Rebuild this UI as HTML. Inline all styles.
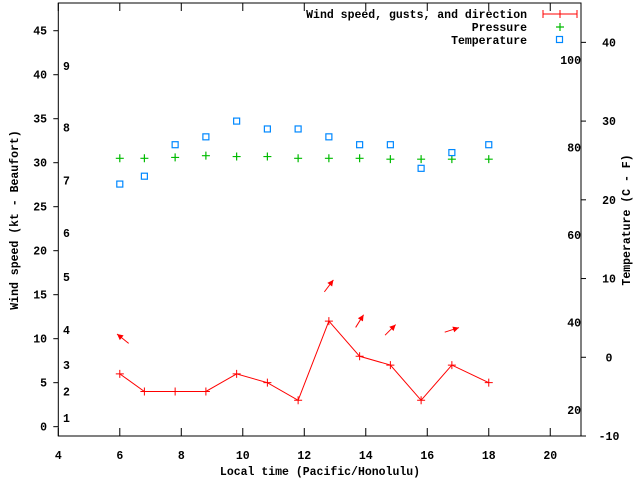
<!DOCTYPE html>
<html><head><meta charset="utf-8"><style>
html,body{margin:0;padding:0;background:#fff;}
svg{display:block;font-family:"Liberation Mono",monospace;font-weight:bold;font-size:11.5px;}
</style></head><body>
<svg id="chart" width="640" height="480" viewBox="0 0 640 480" xmlns="http://www.w3.org/2000/svg">
<g id="axes"></g>
<g id="marks"></g>
<g id="legend">
  <text x="527" y="18" text-anchor="end">Wind speed, gusts, and direction</text>
  <line x1="543" y1="14" x2="577" y2="14" stroke="#f00"/>
  <line x1="543" y1="10" x2="543" y2="18" stroke="#f00"/>
  <line x1="577" y1="10" x2="577" y2="18" stroke="#f00"/>
  <line x1="560" y1="10" x2="560" y2="18" stroke="#f00"/>
  <text x="527" y="31" text-anchor="end">Pressure</text>
  <path d="M556 27h8M560 23v8" stroke="#0b0" stroke-width="1.2" fill="none"/>
  <text x="527" y="44" text-anchor="end">Temperature</text>
  <rect x="556.5" y="36.5" width="6" height="6" stroke="#08f" stroke-width="1.2" fill="none"/>
</g>
</svg>
<script>
const times = [6.0, 6.8, 7.8, 8.8, 9.8, 10.8, 11.8, 12.8, 13.8, 14.8, 15.8, 16.8, 18.0];
const windSpeed = [6, 4, 4, 4, 6, 5, 3, 12, 8, 7, 3, 7, 5];
const pressure = [30.5, 30.5, 30.6, 30.8, 30.7, 30.7, 30.5, 30.5, 30.5, 30.4, 30.4, 30.4, 30.4];
const temperatureC = [22, 23, 27, 28, 30, 29, 29, 28, 27, 27, 24, 26, 27];
const arrowTimes = [6.1, 12.8, 13.8, 14.8, 16.8];
const arrowGusts = [10, 16, 12, 11, 11];
const arrowHeadings = [309, 37, 32, 45, 72];
const xTicks = [4, 6, 8, 10, 12, 14, 16, 18, 20];
const yTicks = [0, 5, 10, 15, 20, 25, 30, 35, 40, 45];
const y2TicksC = [-10, 0, 10, 20, 30, 40];
const y2TicksF = [20, 40, 60, 80, 100];
const beaufortLevels = [1, 2, 3, 4, 5, 6, 7, 8, 9];
const beaufortKt = [1, 4, 7, 11, 17, 22, 28, 34, 41];

const L = 58.3, R = 581, T = 3, B = 436;
const X0 = 4, X1 = 21, Y0 = -1.06, Y1 = 48.15, C0 = -10, C1 = 45;
const xs = t => L + (t - X0) / (X1 - X0) * (R - L);
const ys = v => B - (v - Y0) / (Y1 - Y0) * (B - T);
const yc = c => B - (c - C0) / (C1 - C0) * (B - T);
const NS = 'http://www.w3.org/2000/svg';
function mk(parent, tag, attrs, text) {
  const e = document.createElementNS(NS, tag);
  for (const k in attrs) e.setAttribute(k, attrs[k]);
  if (text !== undefined) e.textContent = text;
  parent.appendChild(e);
  return e;
}
const ax = document.getElementById('axes');
const mg = document.getElementById('marks');

let e = mk(ax, 'rect', {x: L, y: T, width: R - L, height: B - T, fill: 'none', stroke: '#000'});



xTicks.forEach(t => {
  const x = xs(t);
  let l = mk(ax, 'path', {d: `M${x} ${B}v-8M${x} ${T}v8`, stroke: '#000'});
  
  
  let tx = mk(ax, 'text', {x: x, y: 459, 'text-anchor': 'middle'}, String(t));
  
  
});
yTicks.forEach(v => {
  const y = ys(v);
  let l = mk(ax, 'path', {d: `M${L} ${y}h-5`, stroke: '#000'});
  
  
  let tx = mk(ax, 'text', {x: 47, y: y + 4, 'text-anchor': 'end'}, String(v));
  
  
});
y2TicksC.forEach(c => {
  const y = yc(c);
  let l = mk(ax, 'path', {d: `M${R} ${y}h5`, stroke: '#000'});
  
  
  let tx = mk(ax, 'text', {x: 609, y: y + 4, 'text-anchor': 'middle'}, String(c));
  
  
});
y2TicksF.forEach(f => {
  const y = yc((f - 32) / 1.8);
  let tx = mk(ax, 'text', {x: 581, y: y + 4, 'text-anchor': 'end'}, String(f));
  
  
});
beaufortLevels.forEach((b, i) => {
  const y = ys(beaufortKt[i]);
  let tx = mk(ax, 'text', {x: 63, y: y + 4}, String(b));
  
  
});
let t1 = mk(ax, 'text', {x: 320, y: 475, 'text-anchor': 'middle'}, 'Local time (Pacific/Honolulu)');


let t2 = mk(ax, 'text', {x: 0, y: 0, 'text-anchor': 'middle', transform: 'translate(18,220) rotate(-90)'}, 'Wind speed (kt - Beaufort)');


let t3 = mk(ax, 'text', {x: 0, y: 0, 'text-anchor': 'middle', transform: 'translate(630,220) rotate(-90)'}, 'Temperature (C - F)');



// wind line
const pts = times.map((t, i) => `${xs(t)},${ys(windSpeed[i])}`).join(' ');
let pl = mk(mg, 'polyline', {points: pts, fill: 'none', stroke: '#f00'});


times.forEach((t, i) => {
  const x = xs(t), y = ys(windSpeed[i]);
  let p = mk(mg, 'path', {d: `M${x - 4} ${y}h8M${x} ${y - 4}v8`, stroke: '#f00'});
  
  
});
times.forEach((t, i) => {
  const x = xs(t), y = ys(pressure[i]);
  let p = mk(mg, 'path', {d: `M${x - 4} ${y}h8M${x} ${y - 4}v8`, stroke: '#0b0', 'stroke-width': 1.2});
  
  
});
temperatureC.forEach((c, i) => {
  const x = xs(times[i]), y = yc(c);
  let r = mk(mg, 'rect', {x: x - 3, y: y - 3, width: 6, height: 6, fill: 'none', stroke: '#08f', 'stroke-width': 1.2});
  
  
});
arrowTimes.forEach((t, i) => {
  const cx = xs(t), cy = ys(arrowGusts[i]);
  const a = arrowHeadings[i] * Math.PI / 180, len = 15;
  const dx = Math.sin(a) * len / 2, dy = -Math.cos(a) * len / 2;
  const hx = cx + dx, hy = cy + dy;
  const ux = dx / (len / 2), uy = dy / (len / 2);
  const bx = hx - ux * 6, by = hy - uy * 6;
  const g = mk(mg, 'g', {});
  
  
  mk(g, 'line', {x1: cx - dx, y1: cy - dy, x2: hx, y2: hy, stroke: '#f00'});
  mk(g, 'polygon', {points: `${hx},${hy} ${bx - uy * 3},${by + ux * 3} ${bx + uy * 3},${by - ux * 3}`, fill: '#f00'});
});
</script>
</body></html>
